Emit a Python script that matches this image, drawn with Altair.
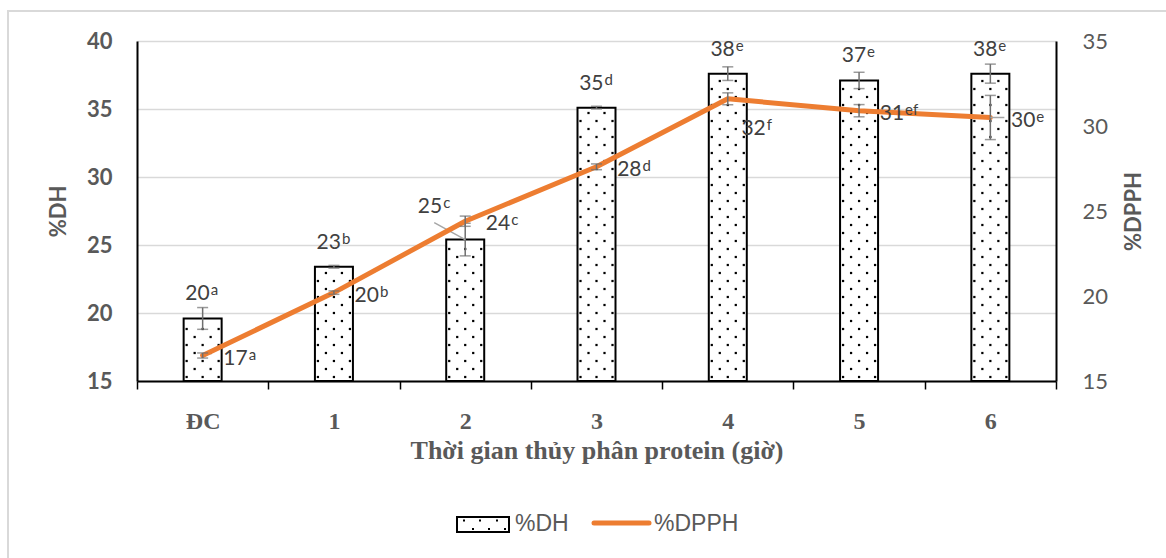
import altair as alt
import pandas as pd

# ---- data ----
cats = ["ĐC", "1", "2", "3", "4", "5", "6"]
dh = [19.6, 23.4, 25.4, 35.1, 37.6, 37.1, 37.6]
dh_err = [0.8, 0.1, 1.2, 0.1, 0.5, 0.6, 0.7]
dpph = [16.5, 20.2, 24.4, 27.6, 31.6, 30.9, 30.5]
dpph_err = [0.15, 0.1, 0.3, 0.17, 0.35, 0.36, 1.3]
dh_num = ["20", "23", "25", "35", "38", "37", "38"]
dh_sup = ["a", "b", "c", "d", "e", "e", "e"]
dpph_num = ["17", "20", "24", "28", "32", "31", "30"]
dpph_sup = ["a", "b", "c", "d", "f", "ef", "e"]
series = ["%DH", "%DPPH"]
x_title = "Thời gian thủy phân protein (giờ)"

W, H = 919, 340
GRAY = "#595959"
LBL = "#404040"
ORANGE = "#ED7D31"
ERR = "#6f6f6f"

df = pd.DataFrame({
    "cat": cats, "dh": dh, "dpph": dpph,
    "dh_lo": [v - e for v, e in zip(dh, dh_err)],
    "dh_hi": [v + e for v, e in zip(dh, dh_err)],
    "dp_lo": [v - e for v, e in zip(dpph, dpph_err)],
    "dp_hi": [v + e for v, e in zip(dpph, dpph_err)],
    "dh_num": dh_num, "dh_sup": dh_sup,
    "dp_num": dpph_num, "dp_sup": dpph_sup,
})

# dotted texture inside the bars (decoration derived from bar heights)
px_per = H / 25.0
tex = []
for c, v in zip(cats, dh):
    hpx = (v - 15) * px_per
    k = 0
    while 4 + 8 * k < hpx - 3:
        tex.append({"cat": c, "yv": 15 + (4 + 8 * k) / px_per, "par": k % 2})
        k += 1
tex_df = pd.DataFrame(tex)

x_axis = alt.Axis(
    title=x_title, labelAngle=0, labelFont="Liberation Serif", labelFontWeight="bold",
    labelFontSize=24, labelColor=GRAY, labelPadding=20, tickBand="extent", tickSize=8,
    tickColor="black", tickWidth=1.5, domainColor="black", domainWidth=2,
    titleFont="Liberation Serif", titleFontSize=26, titleFontWeight="bold",
    titleColor=GRAY, titleY=77, titleBaseline="alphabetic",
)
yl_axis = alt.Axis(
    orient="left", values=[15, 20, 25, 30, 35, 40], grid=True, gridColor="#d9d9d9",
    gridWidth=1.5, ticks=False, domainColor="black", domainWidth=2,
    labelFont="Lato", labelFontWeight="bold", labelFontSize=22, labelColor=GRAY,
    labelPadding=25, title="%DH", titleFont="Lato", titleFontWeight="bold",
    titleFontSize=22, titleColor=GRAY, titleAngle=270, titleX=-79, titleY=170,
    titleAlign="center", titleBaseline="middle",
)
yr_axis = alt.Axis(
    orient="right", values=[15, 20, 25, 30, 35], grid=False, ticks=False,
    domainColor="black", domainWidth=2, labelFont="Lato", labelFontSize=22,
    labelColor=GRAY, labelPadding=26, title="%DPPH", titleFont="Lato",
    titleFontWeight="bold", titleFontSize=22, titleColor=GRAY, titleAngle=270,
    titleX=77, titleY=170, titleAlign="center", titleBaseline="middle",
)

base = alt.Chart(df)
X = alt.X("cat:N", sort=cats, scale=alt.Scale(paddingInner=0, paddingOuter=0), axis=x_axis)
YL_SCALE = alt.Scale(domain=[15, 40], zero=False, nice=False)
YR_SCALE = alt.Scale(domain=[15, 35], zero=False, nice=False)

def YL(f):
    return alt.Y(f, scale=YL_SCALE, axis=yl_axis)

def YR(f):
    return alt.Y(f, scale=YR_SCALE, axis=yr_axis)

bars = base.mark_bar(width=38, fill="white", stroke="black", strokeWidth=2).encode(
    x=X, y=YL("dh:Q"), y2=alt.datum(15))

dot_layers = []
for par, offs in [(0, [-16, 0, 16]), (1, [-8, 8])]:
    for o in offs:
        dot_layers.append(
            alt.Chart(tex_df).mark_square(size=5, color="black", opacity=1, xOffset=o)
            .encode(x=X, y=YL("yv:Q"))
            .transform_filter(alt.datum.par == par)
        )

dh_rule = base.mark_rule(color=ERR, strokeWidth=1.5).encode(x=X, y=YL("dh_lo:Q"), y2="dh_hi:Q")
dh_cap1 = base.mark_tick(color=ERR, size=11, thickness=1.5).encode(x=X, y=YL("dh_lo:Q"))
dh_cap2 = base.mark_tick(color=ERR, size=11, thickness=1.5).encode(x=X, y=YL("dh_hi:Q"))

def two_part(yenc, num, sup, dx, dy, flt):
    n = base.mark_text(align="right", baseline="middle", dx=dx, dy=dy, font="Lato",
                       fontSize=21, color=LBL).encode(x=X, y=yenc, text=num).transform_filter(flt)
    s = base.mark_text(align="left", baseline="middle", dx=dx + 1, dy=dy - 4, font="Lato",
                       fontSize=15, color=LBL).encode(x=X, y=yenc, text=sup).transform_filter(flt)
    return [n, s]

dh_lbls = two_part(YL("dh:Q"), "dh_num:N", "dh_sup:N", 7, -24, alt.datum.cat != "2")
dh_lbls += two_part(YL("dh:Q"), "dh_num:N", "dh_sup:N", -23, -33, alt.datum.cat == "2")
leader1 = base.mark_rule(color="#a6a6a6", strokeWidth=1.5, x2Offset=-31, y2Offset=-17).encode(
    x=X, x2="cat:N", y=YL("dh:Q"), y2="dh:Q").transform_filter(alt.datum.cat == "2")

left = alt.layer(bars, *dot_layers, dh_rule, dh_cap1, dh_cap2, leader1, *dh_lbls)

line = base.mark_line(color=ORANGE, strokeWidth=5, strokeJoin="round", strokeCap="round").encode(
    x=X, y=YR("dpph:Q"))
dp_rule = base.mark_rule(color=ERR, strokeWidth=1.5).encode(x=X, y=YR("dp_lo:Q"), y2="dp_hi:Q")
dp_cap1 = base.mark_tick(color=ERR, size=11, thickness=1.5).encode(x=X, y=YR("dp_lo:Q"))
dp_cap2 = base.mark_tick(color=ERR, size=11, thickness=1.5).encode(x=X, y=YR("dp_hi:Q"))
leader2 = base.mark_rule(color="#a6a6a6", strokeWidth=1.5, x2Offset=14).encode(
    x=X, x2="cat:N", y=YR("dpph:Q"), y2="dpph:Q").transform_filter(alt.datum.cat == "6")
dp_lbls = two_part(YR("dpph:Q"), "dp_num:N", "dp_sup:N", 45, 3, alt.datum.cat != "4")
dp_lbls += two_part(YR("dpph:Q"), "dp_num:N", "dp_sup:N", 38, 30, alt.datum.cat == "4")

right = alt.layer(line, dp_rule, dp_cap1, dp_cap2, leader2, *dp_lbls)

one = alt.Chart(pd.DataFrame({"k": [0]}))
frame = one.mark_rect(filled=False, stroke="#d9d9d9", strokeWidth=2).encode(
    x=alt.value(-129), x2=alt.value(W + 300), y=alt.value(-30), y2=alt.value(H + 400))

leg = [
    one.mark_rect(fill="white", stroke="black", strokeWidth=2).encode(
        x=alt.value(320), x2=alt.value(372), y=alt.value(476), y2=alt.value(491)),
    one.mark_text(align="left", baseline="middle", font="Liberation Sans", fontSize=23,
                  color=GRAY).encode(x=alt.value(378), y=alt.value(483), text=alt.value(series[0])),
    one.mark_rule(color=ORANGE, strokeWidth=5, strokeCap="round").encode(
        x=alt.value(457), x2=alt.value(512), y=alt.value(482)),
    one.mark_text(align="left", baseline="middle", font="Liberation Sans", fontSize=23,
                  color=GRAY).encode(x=alt.value(517), y=alt.value(483), text=alt.value(series[1])),
]
for lx, ly in [(327, 479.5), (343, 479.5), (360, 479.5), (336, 488), (352, 488), (368, 488)]:
    leg.append(one.mark_square(size=4, color="black", opacity=1).encode(
        x=alt.value(lx), y=alt.value(ly)))

chart = alt.layer(frame, left, right, *leg).resolve_scale(y="independent").properties(
    width=W, height=H,
    autosize=alt.AutoSizeParams(type="none"),
    padding={"left": 137, "top": 41, "right": 110, "bottom": 177},
).configure_view(strokeWidth=0)

chart.save("out.html", embed_options={"renderer": "svg", "actions": False})
